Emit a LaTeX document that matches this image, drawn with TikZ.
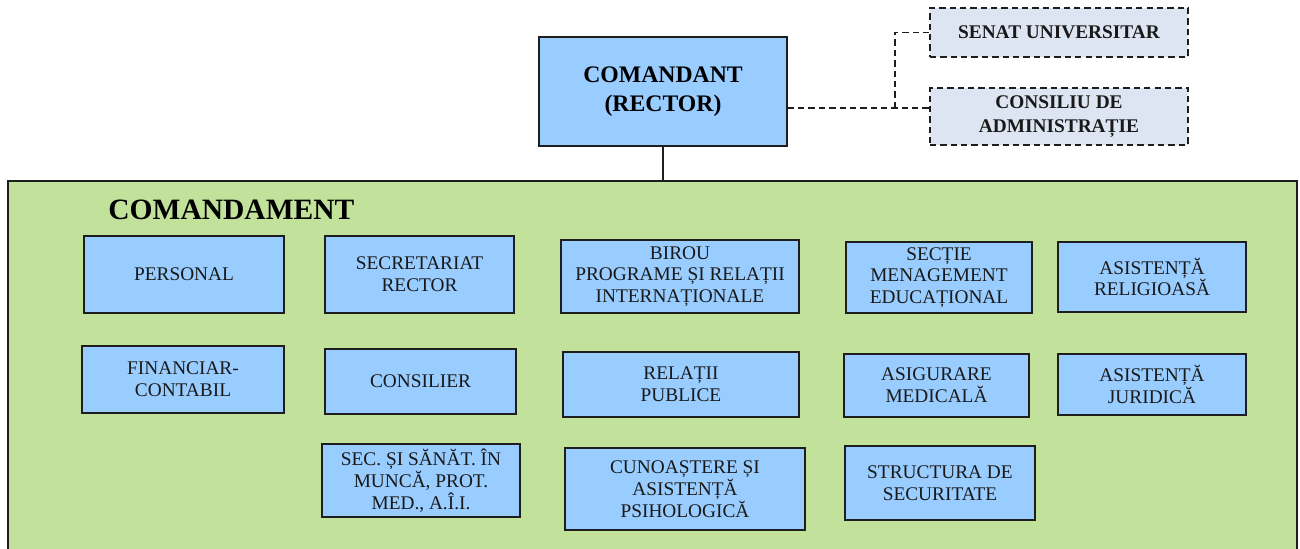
\documentclass[tikz,border=0pt]{standalone}
\usepackage{fontspec}
\setmainfont{Liberation Serif}
\usetikzlibrary{positioning}

\definecolor{cmdblue}{RGB}{153,204,255}
\definecolor{cmdgreen}{RGB}{194,225,154}
\definecolor{cmdgray}{RGB}{220,229,241}
\definecolor{cmdline}{RGB}{30,30,30}

\tikzset{
    unitbox/.style={draw=cmdline, line width=0.8pt, fill=cmdblue, align=center, inner sep=0pt,
        text=black!90, font=\fontsize{11}{12.4}\selectfont},
    councilbox/.style={unitbox, fill=cmdgray, dash pattern=on 3.6pt off 2.3pt,
        font=\bfseries\fontsize{11}{13.5}\selectfont},
    link/.style={cmdline, line width=0.8pt}
}

\begin{document}
\begin{tikzpicture}
    \useasboundingbox (0,0) rectangle (26,10.96);
    \clip (0,0) rectangle (26,10.96);

    % conducere
    \node[unitbox, minimum width=4.96cm, minimum height=2.18cm, font=\bfseries\fontsize{13.5}{16.5}\selectfont, text=black]
        (comandant) at (13.26,9.13) {COMANDANT\\(RECTOR)};
    \node[councilbox, minimum width=5.16cm, minimum height=0.98cm] (senat) at (21.18,10.31) {SENAT UNIVERSITAR};
    \node[councilbox, minimum width=5.16cm, minimum height=1.14cm] (consiliu) at (21.18,8.63) {CONSILIU DE\\ADMINISTRAȚIE};
    \coordinate (split) at (17.9,8.8);

    \draw[link, dash pattern=on 3.6pt off 2.3pt] (comandant.east |- split) -- (consiliu.west |- split);
    \draw[link, dash pattern=on 3.6pt off 2.3pt] (split) |- (senat.west);

    % comandament
    \node[draw=cmdline, line width=0.6pt, fill=cmdgreen, minimum width=25.78cm, minimum height=7.58cm, inner sep=0pt]
        (comandament) at (13.05,3.55) {};
    \node[anchor=base west, inner sep=0pt, font=\bfseries\fontsize{16.8}{18}\selectfont] (titlu) at (2.16,6.574) {COMANDAMENT};
    \draw[link] (comandant.south) -- (comandament.north -| comandant.south);

    \node[unitbox, minimum width=4.00cm, minimum height=1.54cm] (personal) at (3.68,5.47) {PERSONAL};
    \node[unitbox, minimum width=3.78cm, minimum height=1.54cm] (secretariat) at (8.39,5.47) {SECRETARIAT\\RECTOR};
    \node[unitbox, minimum width=4.76cm, minimum height=1.46cm] (birou) at (13.60,5.43) {BIROU\\PROGRAME ȘI RELAȚII\\INTERNAȚIONALE};
    \node[unitbox, minimum width=3.72cm, minimum height=1.42cm] (sectie) at (18.78,5.41) {SECȚIE\\MENAGEMENT\\EDUCAȚIONAL};
    \node[unitbox, minimum width=3.76cm, minimum height=1.40cm] (religioasa) at (23.04,5.42) {ASISTENȚĂ\\RELIGIOASĂ};

    \node[unitbox, minimum width=4.04cm, minimum height=1.34cm] (financiar) at (3.66,3.37) {FINANCIAR-\\CONTABIL};
    \node[unitbox, minimum width=3.82cm, minimum height=1.30cm] (consilier) at (8.41,3.33) {CONSILIER};
    \node[unitbox, minimum width=4.72cm, minimum height=1.30cm] (relatii) at (13.62,3.27) {RELAȚII\\PUBLICE};
    \node[unitbox, minimum width=3.70cm, minimum height=1.26cm] (medicala) at (18.73,3.25) {ASIGURARE\\MEDICALĂ};
    \node[unitbox, minimum width=3.76cm, minimum height=1.22cm] (juridica) at (23.04,3.27) {ASISTENȚĂ\\JURIDICĂ};

    \node[unitbox, minimum width=3.96cm, minimum height=1.46cm] (sanatate) at (8.42,1.35) {SEC. ȘI SĂNĂT. ÎN\\MUNCĂ, PROT.\\MED., A.Î.I.};
    \node[unitbox, minimum width=4.80cm, minimum height=1.64cm] (psihologica) at (13.70,1.18) {CUNOAȘTERE ȘI\\ASISTENȚĂ\\PSIHOLOGICĂ};
    \node[unitbox, minimum width=3.80cm, minimum height=1.48cm] (securitate) at (18.80,1.30) {STRUCTURA DE\\SECURITATE};
\end{tikzpicture}
\end{document}
